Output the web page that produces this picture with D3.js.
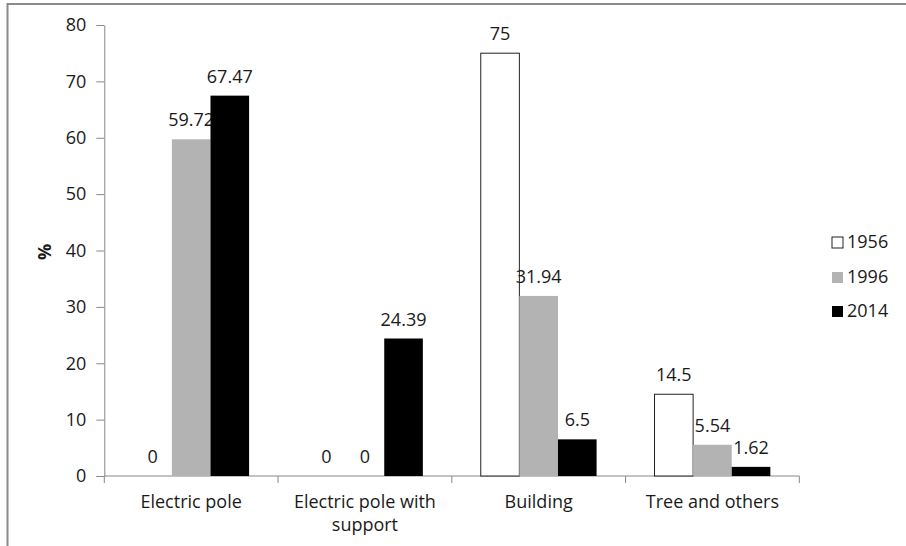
<!DOCTYPE html>
<html>
<head>
<meta charset="utf-8">
<script src="https://cdn.jsdelivr.net/npm/d3@7"></script>
<style>
  html, body { margin: 0; padding: 0; background: #fff; }
  svg { display: block; }
  text { font-family: "Open Sans", sans-serif; fill: #1a1a1a; }
</style>
</head>
<body>
<svg id="chart" width="906" height="546"></svg>
<script>
const categories = ["Electric pole", "Electric pole with support", "Building", "Tree and others"];
const seriesNames = ["1956", "1996", "2014"];
const values1956 = [0, 0, 75, 14.5];
const values1996 = [59.72, 0, 31.94, 5.54];
const values2014 = [67.47, 24.39, 6.5, 1.62];
const valueLabels1956 = ["0", "0", "75", "14.5"];
const valueLabels1996 = ["59.72", "0", "31.94", "5.54"];
const valueLabels2014 = ["67.47", "24.39", "6.5", "1.62"];
const yTicks = [0, 10, 20, 30, 40, 50, 60, 70, 80];
const yLabel = "%";

const seriesValues = [values1956, values1996, values2014];
const seriesLabels = [valueLabels1956, valueLabels1996, valueLabels2014];
const fills = ["#ffffff", "#b3b3b3", "#000000"];
const strokes = ["#222222", "none", "none"];

const svg = d3.select("#chart");
const axisColor = "#888888";
const fontSize = 18;

// outer frame (left and top edges visible)
svg.append("path")
  .attr("d", "M7.5,546 L7.5,4 L906,4")
  .attr("fill", "none")
  .attr("stroke", "#8a8a8a")
  .attr("stroke-width", 2);

const y = d3.scaleLinear().domain([0, 80]).range([476, 25]);
const x = d3.scaleBand().domain(categories).range([104.3, 799.3]).paddingInner(0).paddingOuter(0);
const bw = x.bandwidth();
const x1 = d3.scaleBand().domain(seriesNames).range([bw / 6, bw * 5 / 6]).padding(0);

// y axis
const yAxis = d3.axisLeft(y).tickValues(yTicks).tickSize(8).tickSizeOuter(0).tickPadding(10);
const yg = svg.append("g").attr("transform", "translate(104.3,0)").call(yAxis);
yg.selectAll("path, line").attr("stroke", axisColor);
yg.selectAll("text").attr("font-size", fontSize).attr("font-family", "Open Sans, sans-serif").attr("fill", "#1a1a1a");

// y label
svg.append("text")
  .attr("transform", "translate(51,252) rotate(-90)")
  .attr("text-anchor", "middle")
  .attr("font-size", fontSize)
  .attr("font-weight", "bold")
  .text(yLabel);

// x axis line with boundary ticks
const boundaries = categories.map(c => x(c)).concat([x.range()[1]]);
svg.append("line")
  .attr("x1", x.range()[0]).attr("x2", x.range()[1])
  .attr("y1", y(0)).attr("y2", y(0))
  .attr("stroke", axisColor);
svg.selectAll(".xtick").data(boundaries).enter().append("line")
  .attr("x1", d => d).attr("x2", d => d)
  .attr("y1", y(0)).attr("y2", y(0) + 7)
  .attr("stroke", axisColor);

// category labels with wrapping
categories.forEach(c => {
  const t = svg.append("text")
    .attr("x", x(c) + bw / 2)
    .attr("y", 508)
    .attr("text-anchor", "middle")
    .attr("font-size", fontSize);
  const words = c.split(" ");
  let line = [];
  let tspan = t.append("tspan").attr("x", x(c) + bw / 2).attr("dy", 0);
  let lineNo = 0;
  words.forEach(w => {
    line.push(w);
    tspan.text(line.join(" "));
    if (tspan.node().getComputedTextLength() > bw - 14 && line.length > 1) {
      line.pop();
      tspan.text(line.join(" "));
      line = [w];
      lineNo++;
      tspan = t.append("tspan").attr("x", x(c) + bw / 2).attr("dy", 23).text(w);
    }
  });
});

// bars and labels, series by series
seriesNames.forEach((s, si) => {
  const g = svg.append("g");
  g.selectAll("rect").data(seriesValues[si]).enter().append("rect")
    .attr("x", (d, i) => x(categories[i]) + x1(s))
    .attr("y", d => y(d))
    .attr("width", x1.bandwidth())
    .attr("height", d => y(0) - y(d))
    .attr("fill", fills[si])
    .attr("stroke", d => d > 0 ? strokes[si] : "none")
    .attr("stroke-width", 1);
  g.selectAll("text").data(seriesValues[si]).enter().append("text")
    .attr("x", (d, i) => x(categories[i]) + x1(s) + x1.bandwidth() / 2)
    .attr("y", d => y(d) - 13)
    .attr("text-anchor", "middle")
    .attr("font-size", fontSize)
    .text((d, i) => seriesLabels[si][i]);
});

// legend
const legendBaselines = [248, 283, 317];
seriesNames.forEach((s, si) => {
  svg.append("rect")
    .attr("x", 832).attr("y", legendBaselines[si] - 11)
    .attr("width", 11).attr("height", 11)
    .attr("fill", fills[si])
    .attr("stroke", si === 0 ? "#222" : "none");
  svg.append("text")
    .attr("x", 847).attr("y", legendBaselines[si])
    .attr("font-size", fontSize)
    .text(s);
});
</script>
</body>
</html>
